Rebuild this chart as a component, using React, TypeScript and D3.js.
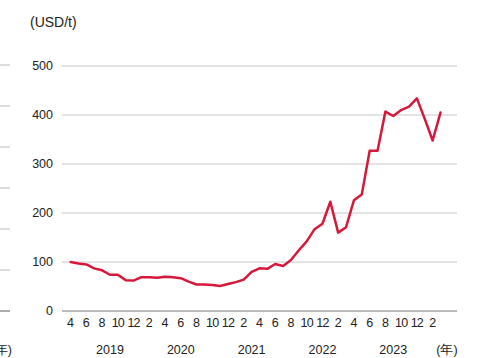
import React from "react";
import * as d3 from "d3";

const prices: number[] = [
  100, 97, 95, 87, 83, 74, 74, 63, 62,
  69, 69, 68, 70, 69, 67, 60, 54, 54, 53, 51, 55,
  59, 64, 80, 87, 86, 96, 92, 104, 124, 142, 167, 178,
  223, 160, 171, 226, 238, 327, 327, 407, 398, 410, 417, 434,
  392, 348, 405,
];
const monthLabels: string[] = [
  "4", "6", "8", "10", "12", "2", "4", "6", "8", "10", "12", "2",
  "4", "6", "8", "10", "12", "2", "4", "6", "8", "10", "12", "2",
];
const yearLabels: string[] = ["2019", "2020", "2021", "2022", "2023"];
const yearIdx: number[] = [5, 14, 23, 32, 41];
const yTicks: number[] = [0, 100, 200, 300, 400, 500];
const neighborTicks: number[] = [0, 1, 2, 3, 4, 5, 6];

const W = 487;
const H = 358;
const FONT = "'Liberation Sans', Arial, Helvetica, sans-serif";

export default function App() {
  const x = d3.scaleLinear().domain([0, 47]).range([70.6, 440.5]);
  const y = d3.scaleLinear().domain([0, 500]).range([311, 66]);
  const yn = d3.scaleLinear().domain([0, 6]).range([311, 65]);
  const line = d3
    .line<number>()
    .x((_, i) => x(i))
    .y((d) => y(d));

  return (
    <svg
      width={W}
      height={H}
      style={{ position: "absolute", left: 0, top: 0, background: "#fff" }}
      fontFamily={FONT}
    >
      {/* neighbor chart remnants at left */}
      {neighborTicks.map((t) => (
        <line
          key={"n" + t}
          x1={0}
          x2={10}
          y1={yn(t)}
          y2={yn(t)}
          stroke={t === 0 ? "#777" : "#bbb"}
          strokeWidth={t === 0 ? 1.2 : 1}
        />
      ))}
      <text x={12} y={354} textAnchor="end" fontSize={12.5} fill="#222">
        (年)
      </text>

      <text x={30} y={27} fontSize={14} fill="#222">
        (USD/t)
      </text>

      {yTicks.map((t) => (
        <g key={"y" + t}>
          <line
            x1={62}
            x2={457}
            y1={y(t)}
            y2={y(t)}
            stroke={t === 0 ? "#777" : "#c8c8c8"}
            strokeWidth={t === 0 ? 1.2 : 1}
          />
          <text
            x={53}
            y={y(t)}
            dy="0.35em"
            textAnchor="end"
            fontSize={12.5}
            fill="#222"
          >
            {t}
          </text>
        </g>
      ))}

      {monthLabels.map((m, i) => (
        <text
          key={"m" + i}
          x={x(i * 2)}
          y={327}
          textAnchor="middle"
          fontSize={12.5}
          letterSpacing={m.length > 1 ? -0.8 : 0}
          fill="#222"
        >
          {m}
        </text>
      ))}

      {yearLabels.map((yl, i) => (
        <text
          key={"yr" + yl}
          x={x(yearIdx[i])}
          y={354}
          textAnchor="middle"
          fontSize={12.5}
          fill="#222"
        >
          {yl}
        </text>
      ))}
      <text x={447} y={354} textAnchor="middle" fontSize={12.5} fill="#222">
        (年)
      </text>

      <path
        d={line(prices) || ""}
        fill="none"
        stroke="#d6183a"
        strokeWidth={2.5}
        strokeLinejoin="round"
        strokeLinecap="round"
      />
    </svg>
  );
}
